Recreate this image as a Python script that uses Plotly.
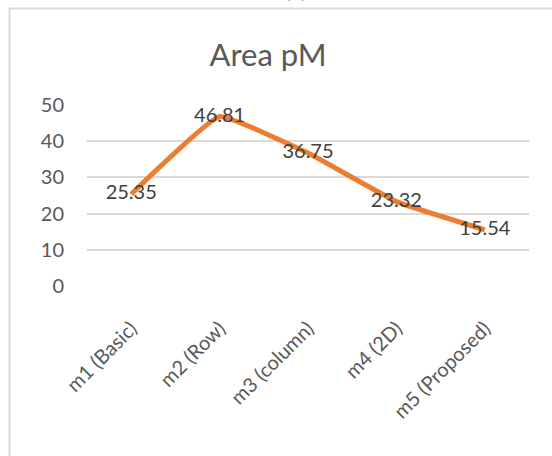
import plotly.graph_objects as go

# Area values for each method
methods = ["m1 (Basic)", "m2 (Row)", "m3 (column)", "m4 (2D)", "m5 (Proposed)"]
area_pm = [25.35, 46.81, 36.75, 23.32, 15.54]
y_ticks = [0, 10, 20, 30, 40, 50]

W, H = 552, 456
L, R, T, B = 87, 23, 105, 170
pw, ph = W - L - R, H - T - B


def px_x(px):
    return (px - L) / pw


def px_y(py):
    return (H - B - py) / ph


fig = go.Figure()
fig.add_trace(go.Scatter(
    x=methods, y=area_pm,
    mode="lines+text",
    line=dict(color="#ED7D31", width=5, shape="spline", smoothing=0.3),
    text=[f"{v:.2f}" for v in area_pm],
    textposition="middle center",
    textfont=dict(family="Lato", size=20, color="#404040"),
    cliponaxis=False,
    hoverinfo="skip",
))

fig.update_layout(
    width=W, height=H,
    margin=dict(l=L, r=R, t=T, b=B),
    paper_bgcolor="white", plot_bgcolor="white",
    showlegend=False,
    font=dict(family="Lato", color="#595959"),
    title=dict(text="Area pM", x=268 / W, xref="container", xanchor="center",
               y=1 - 55 / H, yref="container", yanchor="middle",
               font=dict(family="Lato", size=31, color="#595959")),
    xaxis=dict(type="category", range=[-0.5, len(methods) - 0.5],
               showgrid=False, showline=False, zeroline=False,
               tickangle=-45, tickfont=dict(size=20, color="#595959"),
               ticks="", ticklabelstandoff=26),
    yaxis=dict(range=[0, 50], tickvals=y_ticks, showgrid=True,
               gridcolor="#D9D9D9", gridwidth=1.5, zeroline=False,
               showline=False, ticks="", ticklabelstandoff=22,
               tickfont=dict(size=20, color="#595959")),
    shapes=[dict(type="rect", xref="paper", yref="paper",
                 x0=px_x(9.5), x1=px_x(600), y0=px_y(500), y1=px_y(8.5),
                 line=dict(color="#D9D9D9", width=2), layer="below")],
    annotations=[dict(text="(b)", xref="paper", yref="paper",
                      x=px_x(295), y=px_y(4), xanchor="center", yanchor="bottom",
                      showarrow=False, font=dict(family="Lato", size=20, color="#404040"))],
)

fig.write_html("out.html")
